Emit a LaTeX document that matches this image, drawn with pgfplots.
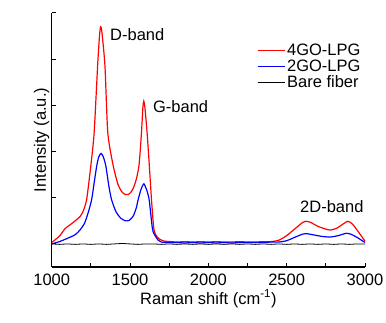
\documentclass[border=0pt]{standalone}
\usepackage{fontspec}
\setmainfont{Liberation Sans}
\usepackage{pgfplots}
\pgfplotsset{compat=1.18}
\begin{document}
\begin{tikzpicture}
\useasboundingbox (-51.7bp,-56bp) rectangle (334.3bp,267bp);
\begin{axis}[
  at={(0,0)}, anchor=south west,
  scale only axis, width=313.3bp, height=254bp,
  xmin=1000, xmax=3000, ymin=-0.5, ymax=5,
  axis lines*=left,
  axis line style={line width=1.2bp},
  tick style={line width=1bp, black},
  tick align=inside,
  major tick length=4.5bp, minor tick length=4.5bp,
  xtick={1000,1500,2000,2500,3000},
  minor xtick={1250,1750,2250,2750},
  ytick={0,1,2,3,4,5},
  yticklabels={},
  /pgf/number format/assume math mode=true,
  /pgf/number format/1000 sep={},
  font=\fontsize{16.5bp}{19.8bp}\selectfont,
  xticklabel style={font=\fontsize{16.5bp}{19.8bp}\selectfont, yshift=-3bp},
  xlabel={Raman shift (cm\textsuperscript{-1})},
  ylabel={Intensity (a.u.)},
  xlabel style={yshift=2bp},
  ylabel style={yshift=-8bp},
  clip=false,
  legend style={at={(0.655,0.887)}, anchor=north west, draw=none, fill=none,
    font=\fontsize{16.5bp}{19.8bp}\selectfont, row sep=-1bp,
    inner sep=0pt, outer sep=0pt},
  legend cell align=left,
  legend image code/.code={\draw[#1] (0bp,0bp) -- (27bp,0bp);},
]
\addplot[red, line width=1.2bp, smooth, tension=0.4] coordinates {
(1000,0.03) (1050,0.17) (1085,0.33) (1120,0.42) (1150,0.50) (1180,0.59) (1200,0.70) (1223,0.96) (1250,1.7) (1271,2.41) (1293,3.85) (1305,4.5) (1312,4.70) (1320,4.6) (1340,3.85) (1358,2.41) (1391,1.72) (1424,1.28) (1450,1.12) (1470,1.07) (1490,1.07) (1505,1.12) (1520,1.2) (1540,1.4) (1558,1.72) (1573,2.41) (1582,2.95) (1588,3.09) (1595,2.95) (1609,2.41) (1625,1.6) (1637,0.96) (1652,0.33) (1669,0.17) (1690,0.10) (1720,0.06) (1760,0.05) (1800,0.04) (1850,0.05) (1900,0.04) (1950,0.05) (2000,0.04) (2050,0.05) (2100,0.04) (2150,0.04) (2200,0.05) (2250,0.04) (2300,0.04) (2350,0.05) (2400,0.05) (2450,0.08) (2500,0.18) (2550,0.32) (2600,0.46) (2620,0.49) (2650,0.47) (2700,0.38) (2750,0.32) (2780,0.30) (2820,0.34) (2860,0.43) (2890,0.49) (2920,0.43) (2960,0.25) (3000,0.06)
};
\addlegendentry{4GO-LPG}
\addplot[blue, line width=1.2bp, smooth, tension=0.4] coordinates {
(1000,0.0) (1050,0.05) (1100,0.12) (1150,0.20) (1180,0.30) (1210,0.45) (1235,0.70) (1255,0.96) (1270,1.3) (1287,1.68) (1300,1.88) (1315,1.96) (1330,1.88) (1346,1.68) (1365,1.25) (1382,0.96) (1410,0.70) (1440,0.56) (1470,0.50) (1495,0.51) (1520,0.60) (1540,0.78) (1552,0.96) (1570,1.18) (1588,1.30) (1605,1.18) (1622,0.96) (1643,0.33) (1658,0.19) (1680,0.08) (1700,0.04) (1750,0.03) (1800,0.03) (1850,0.02) (1900,0.03) (1950,0.02) (2000,0.03) (2050,0.02) (2100,0.03) (2150,0.02) (2200,0.03) (2250,0.03) (2300,0.03) (2350,0.03) (2400,0.04) (2450,0.04) (2500,0.07) (2550,0.14) (2600,0.21) (2630,0.22) (2680,0.19) (2730,0.16) (2780,0.15) (2830,0.18) (2880,0.23) (2910,0.21) (2950,0.14) (3000,0.03)
};
\addlegendentry{2GO-LPG}
\addplot[black, line width=0.8bp] coordinates {
(1000,0.0) (1050,-0.01) (1100,0.0) (1150,-0.01) (1200,0.0) (1250,-0.01) (1300,0.0) (1350,-0.01) (1400,0.0) (1450,0.01) (1500,0.0) (1550,-0.01) (1600,0.0) (1650,0.0) (1700,-0.01) (1750,0.0) (1800,-0.01) (1850,0.0) (1900,-0.01) (1950,0.0) (2000,-0.01) (2050,0.0) (2100,-0.01) (2150,0.0) (2200,-0.01) (2250,0.0) (2300,-0.01) (2350,0.0) (2400,-0.01) (2450,0.0) (2500,-0.01) (2550,0.0) (2600,-0.01) (2650,0.0) (2700,-0.01) (2750,0.0) (2800,-0.01) (2850,0.0) (2900,-0.01) (2950,0.0) (3000,0.0)
};
\addlegendentry{Bare fiber}
\node[anchor=west, inner sep=0pt, font=\fontsize{16.5bp}{19.8bp}\selectfont] at (axis cs:1372,4.54) {D-band};
\node[anchor=west, inner sep=0pt, font=\fontsize{16.5bp}{19.8bp}\selectfont] at (axis cs:1646,2.98) {G-band};
\node[anchor=west, inner sep=0pt, font=\fontsize{16.5bp}{19.8bp}\selectfont] at (axis cs:2585,0.80) {2D-band};
\end{axis}
\end{tikzpicture}
\end{document}
